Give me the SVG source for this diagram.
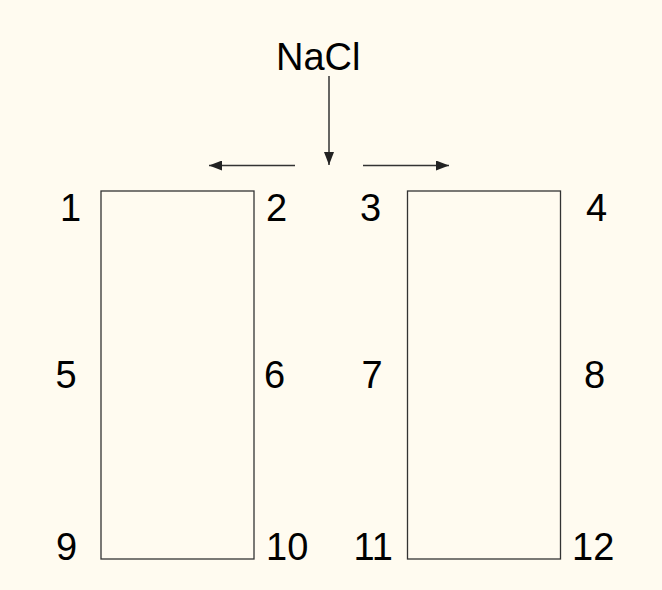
<svg xmlns="http://www.w3.org/2000/svg" width="662" height="590" viewBox="0 0 662 590">
<style>
.lbl{font-family:"Liberation Sans",Arial,sans-serif;font-size:38px;fill:#000}
.box{fill:none;stroke:#333;stroke-width:1.3}
.arr{stroke:#333;stroke-width:1.5;fill:none}
</style>
<defs>
<marker id="ah" markerUnits="userSpaceOnUse" markerWidth="14" markerHeight="10" refX="13" refY="5" orient="auto">
<path d="M0,0 L13,5 L0,10 Z" fill="#222"/>
</marker>
</defs>
<rect width="662" height="590" fill="#FFFBF0"/>
<g id="connectors">
<line class="arr" x1="329" y1="76" x2="329" y2="165" marker-end="url(#ah)"/>
<line class="arr" x1="295" y1="165.5" x2="209" y2="165.5" marker-end="url(#ah)"/>
<line class="arr" x1="363" y1="165.5" x2="449" y2="165.5" marker-end="url(#ah)"/>
</g>
<g id="nacl"><text class="lbl" x="276" y="70">NaCl</text></g>
<g id="box-left"><rect class="box" x="101" y="191" width="153" height="368"/></g>
<g id="box-right"><rect class="box" x="407.5" y="191" width="153" height="368"/></g>
<g id="labels">
<text class="lbl" x="60" y="221">1</text>
<text class="lbl" x="266" y="221">2</text>
<text class="lbl" x="360" y="221">3</text>
<text class="lbl" x="586" y="221">4</text>
<text class="lbl" x="55.5" y="388">5</text>
<text class="lbl" x="264" y="388">6</text>
<text class="lbl" x="361.5" y="388">7</text>
<text class="lbl" x="584" y="388">8</text>
<text class="lbl" x="56" y="560">9</text>
<text class="lbl" x="266" y="560">10</text>
<text class="lbl" x="353.5" y="560">11</text>
<text class="lbl" x="572" y="560">12</text>
</g>
</svg>
